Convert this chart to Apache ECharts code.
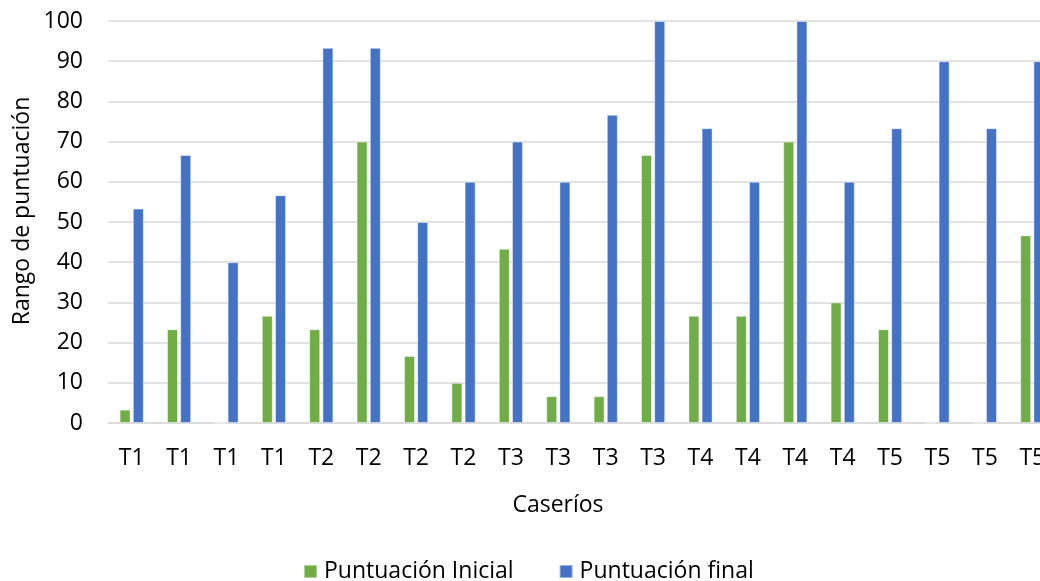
<!DOCTYPE html>
<html>
<head>
<meta charset="utf-8">
<script src="https://cdn.jsdelivr.net/npm/echarts@6/dist/echarts.min.js"></script>
<style>
  html, body { margin: 0; padding: 0; background: #ffffff; overflow: hidden; }
  #chart { width: 1040px; height: 581px; }
</style>
</head>
<body>
<div id="chart"></div>
<script>
// Caseríos agrupados por tramo
const categories = [
  'T1', 'T1', 'T1', 'T1',
  'T2', 'T2', 'T2', 'T2',
  'T3', 'T3', 'T3', 'T3',
  'T4', 'T4', 'T4', 'T4',
  'T5', 'T5', 'T5', 'T5'
];

const puntuacionInicial = [
  3.33, 23.33, 0, 26.67,
  23.33, 70, 16.67, 10,
  43.33, 6.67, 6.67, 66.67,
  26.67, 26.67, 70, 30,
  23.33, 0, 0, 46.67
];

const puntuacionFinal = [
  53.33, 66.67, 40, 56.67,
  93.33, 93.33, 50, 60,
  70, 60, 76.67, 100,
  73.33, 60, 100, 60,
  73.33, 90, 73.33, 90
];

const yTicks = { min: 0, max: 100, interval: 10 };

const FONT = '"Open Sans", "Noto Sans", sans-serif';
const SIZE = 23;
const TEXT = '#000000';

const chart = echarts.init(document.getElementById('chart'), null, { renderer: 'canvas' });

chart.setOption({
  animation: false,
  textStyle: { fontFamily: FONT },
  // the plot runs a little past the right edge of the canvas
  grid: { left: 108, width: 948, top: 21, height: 402, containLabel: false, outerBoundsMode: 'none' },
  legend: {
    top: 560,
    left: 303,
    itemWidth: 13,
    itemHeight: 13,
    itemGap: 45,
    icon: 'rect',
    padding: 0,
    textStyle: { fontFamily: FONT, fontSize: SIZE, color: TEXT, padding: [0, 0, 0, 2] },
    data: ['Puntuación Inicial', 'Puntuación final']
  },
  graphic: [
    {
      type: 'text',
      x: 558,
      y: 505,
      style: { text: 'Caseríos', font: SIZE + 'px ' + FONT, fill: TEXT, align: 'center', verticalAlign: 'middle' }
    },
    {
      type: 'text',
      x: 22,
      y: 211,
      rotation: Math.PI / 2,
      style: { text: 'Rango de puntuación', font: SIZE + 'px ' + FONT, fill: TEXT, align: 'center', verticalAlign: 'middle' }
    }
  ],
  xAxis: {
    type: 'category',
    data: categories,
    axisLine: { show: true, lineStyle: { color: '#d9d9d9', width: 1.5 } },
    axisTick: { show: false },
    axisLabel: { color: TEXT, fontSize: SIZE, fontFamily: FONT, margin: 24, interval: 0 }
  },
  yAxis: {
    type: 'value',
    min: yTicks.min,
    max: yTicks.max,
    interval: yTicks.interval,
    axisLine: { show: false },
    axisTick: { show: false },
    axisLabel: { color: TEXT, fontSize: SIZE, fontFamily: FONT, margin: 25 },
    splitLine: { lineStyle: { color: '#d9d9d9', width: 1.5 } }
  },
  series: [
    {
      name: 'Puntuación Inicial',
      type: 'bar',
      data: puntuacionInicial,
      barWidth: 11,
      barGap: '20%',
      itemStyle: { color: '#70ad47', borderColor: 'rgba(255,255,255,0.45)', borderWidth: 1 }
    },
    {
      name: 'Puntuación final',
      type: 'bar',
      data: puntuacionFinal,
      barWidth: 11,
      barGap: '20%',
      itemStyle: { color: '#4472c4', borderColor: 'rgba(255,255,255,0.45)', borderWidth: 1 }
    }
  ]
});
</script>
</body>
</html>
